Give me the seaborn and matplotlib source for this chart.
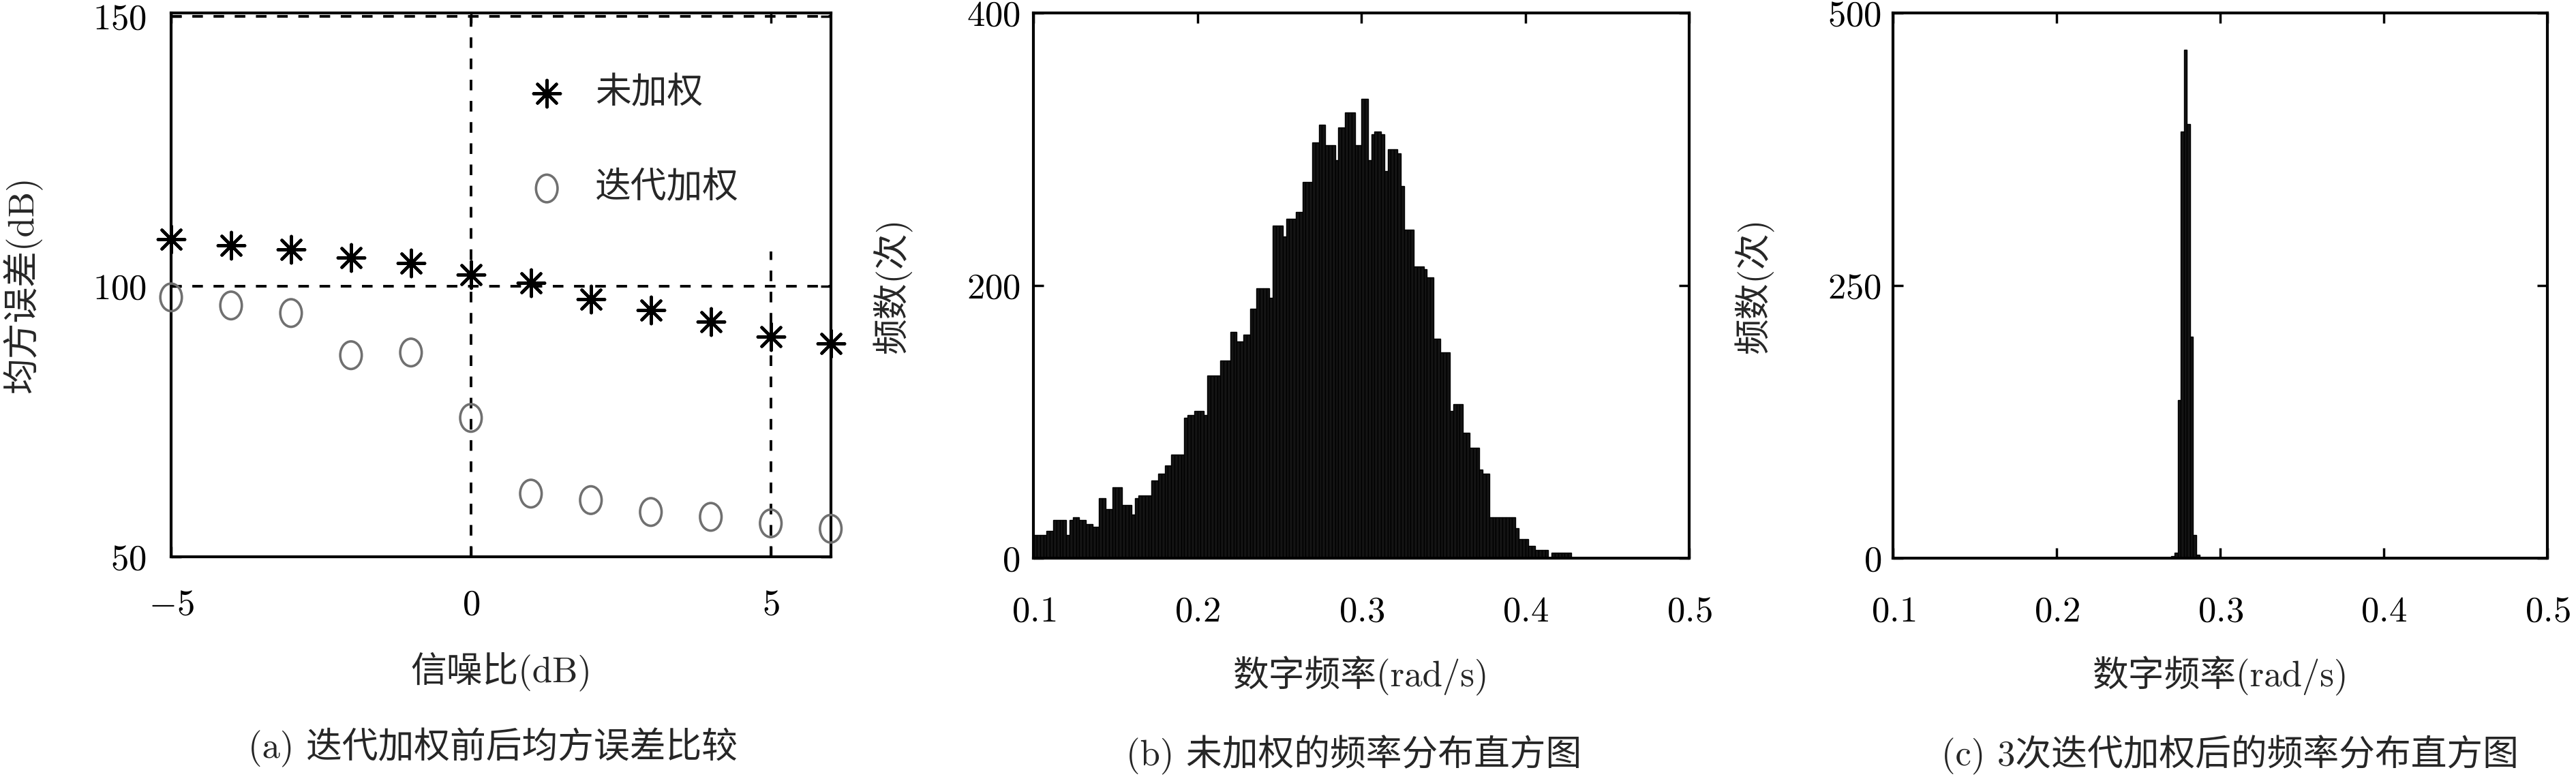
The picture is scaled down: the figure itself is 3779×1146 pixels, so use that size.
import numpy as np
import pandas as pd
import seaborn as sns
import matplotlib.pyplot as plt
from matplotlib.path import Path
from matplotlib.markers import MarkerStyle

sns.set_style("ticks")
plt.rcParams["font.family"] = ["cmr10", "Noto Sans CJK SC", "DejaVu Sans"]
plt.rcParams["mathtext.fontset"] = "cm"
plt.rcParams["axes.formatter.use_mathtext"] = True
plt.rcParams["axes.unicode_minus"] = True

# panel (a): MSE vs SNR
snr_db = [-5, -4, -3, -2, -1, 0, 1, 2, 3, 4, 5, 6]
mse_unweighted = [108.8, 107.6, 106.8, 105.4, 104.3, 102.2, 100.7, 97.6, 95.7, 93.5, 90.7, 89.5]
mse_iterative = [98.0, 96.5, 95.1, 87.3, 87.8, 75.7, 61.7, 60.5, 58.3, 57.4, 56.2, 55.2]

# panel (b): unweighted frequency histogram (counts per bin, bin width 0.002 from 0.1)
hist_b_start, hist_b_width = 0.1, 0.002
hist_b_counts = [
    17, 17, 17, 17, 20, 20, 28, 28, 28, 28, 17, 28, 30, 30, 28, 28, 25, 25, 23, 23,
    44, 44, 36, 36, 52, 52, 52, 39, 39, 39, 32, 44, 46, 46, 46, 46, 57, 57, 62, 62,
    68, 68, 76, 76, 76, 76, 103, 105, 105, 108, 108, 108, 105, 134, 134, 134, 134, 145, 145, 145,
    166, 166, 159, 159, 164, 164, 183, 183, 198, 198, 198, 198, 191, 244, 244, 244, 236, 249, 249, 249,
    254, 254, 276, 276, 276, 305, 305, 318, 318, 303, 303, 303, 292, 316, 316, 327, 327, 327, 303, 303,
    337, 337, 292, 311, 313, 313, 311, 284, 300, 300, 300, 297, 273, 241, 241, 241, 214, 214, 214, 212,
    206, 206, 161, 161, 151, 151, 151, 108, 113, 113, 113, 92, 92, 81, 81, 81, 65, 62, 62, 30,
    30, 30, 30, 30, 30, 30, 30, 22, 14, 14, 14, 9, 9, 6, 6, 6, 6, 0, 4, 4,
    4, 4, 4, 4,
]

# panel (c): histogram after 3 iterations
hist_c_start, hist_c_width = 0.2701, 0.0019
hist_c_counts = [2, 5, 145, 391, 466, 398, 203, 21, 3]

x_ticks_freq = [0.1, 0.2, 0.3, 0.4, 0.5]

FS = 38
BAR_FACE = "#141414"


def style_axes(ax, xpad, ypad):
    for sp in ax.spines.values():
        sp.set_visible(True)
        sp.set_linewidth(3)
        sp.set_color("black")
    ax.tick_params(direction="in", length=11, width=2.5, top=True, right=True,
                   labelsize=FS, colors="black")
    ax.tick_params(axis="x", pad=xpad)
    ax.tick_params(axis="y", pad=ypad)
    ax.grid(False)


def hist_panel(ax, start, width, counts):
    edges = start + width * np.arange(len(counts) + 1)
    df = pd.DataFrame({"freq": edges[:-1] + width / 2, "count": counts})
    sns.histplot(data=df, x="freq", weights="count", bins=list(edges), color=BAR_FACE,
                 edgecolor="black", linewidth=1.0, alpha=1.0, ax=ax)


fig = plt.figure(figsize=(37.8, 11.46), dpi=100)

# ---- panel (a)
ax_a = fig.add_axes([0.0664, 0.2870, 0.2560, 0.6964])
ax_a.axhline(100, color="black", lw=2.8, ls=(0, (4, 4)), zorder=1)
ax_a.axhline(150, color="black", lw=2.8, ls=(0, (4, 4)), zorder=1)
ax_a.plot([0, 0], [50, 150], color="black", lw=2.8, ls=(0, (4, 4)), zorder=1)
ax_a.plot([5, 5], [50, 106.5], color="black", lw=2.8, ls=(0, (4, 4)), zorder=1)

ell = Path.unit_circle()
ell = Path(ell.vertices * np.array([0.78, 1.0]), ell.codes)
sns.scatterplot(x=snr_db, y=mse_unweighted, marker=(8, 2, 0), s=800,
                color="black", linewidth=3.2,
                label="未加权", clip_on=False, zorder=3, ax=ax_a)
sns.scatterplot(x=snr_db, y=mse_iterative, marker=MarkerStyle(ell), s=850,
                fc="none", ec="#707070", linewidth=2.6,
                label="迭代加权", clip_on=False, zorder=3, ax=ax_a)
ax_a.set_xlim(-5, 6)
ax_a.set_ylim(50, 150.6)
ax_a.set_xticks([-5, 0, 5])
ax_a.set_yticks([50, 100, 150])
style_axes(ax_a, xpad=34, ypad=26)
ax_a.set_xlabel("信噪比(dB)", fontsize=FS)
ax_a.set_ylabel("均方误差(dB)", fontsize=FS)
ax_a.xaxis.set_label_coords(0.5, -0.175)
ax_a.yaxis.set_label_coords(-0.195, 0.5)
ax_a.legend(loc="upper left", bbox_to_anchor=(0.515, 0.91), frameon=False,
            fontsize=FS, labelspacing=1.7, handletextpad=0.75, handlelength=1.2,
            borderaxespad=0)

# ---- panel (b)
ax_b = fig.add_axes([0.4011, 0.2853, 0.2545, 0.6981])
hist_panel(ax_b, hist_b_start, hist_b_width, hist_b_counts)
ax_b.set_xlim(0.1, 0.5)
ax_b.set_ylim(0, 400)
ax_b.set_xticks(x_ticks_freq)
ax_b.set_yticks([0, 200, 400])
style_axes(ax_b, xpad=40, ypad=14)
ax_b.set_xlabel("数字频率(rad/s)", fontsize=FS)
ax_b.set_ylabel("频数(次)", fontsize=FS)
ax_b.xaxis.set_label_coords(0.5, -0.18)
ax_b.yaxis.set_label_coords(-0.185, 0.5)

# ---- panel (c)
ax_c = fig.add_axes([0.7347, 0.2853, 0.2540, 0.6981])
hist_panel(ax_c, hist_c_start, hist_c_width, hist_c_counts)
ax_c.set_xlim(0.1, 0.5)
ax_c.set_ylim(0, 500)
ax_c.set_xticks(x_ticks_freq)
ax_c.set_yticks([0, 250, 500])
style_axes(ax_c, xpad=40, ypad=12)
ax_c.set_xlabel("数字频率(rad/s)", fontsize=FS)
ax_c.set_ylabel("频数(次)", fontsize=FS)
ax_c.xaxis.set_label_coords(0.5, -0.18)
ax_c.yaxis.set_label_coords(-0.182, 0.5)

# captions
fig.text(0.1913, 0.043, "(a) 迭代加权前后均方误差比较", ha="center", va="center", fontsize=FS)
fig.text(0.5255, 0.033, "(b) 未加权的频率分布直方图", ha="center", va="center", fontsize=FS)
fig.text(0.8654, 0.033, "(c) 3次迭代加权后的频率分布直方图", ha="center", va="center", fontsize=FS)

fig.savefig("out.png", dpi=100)
